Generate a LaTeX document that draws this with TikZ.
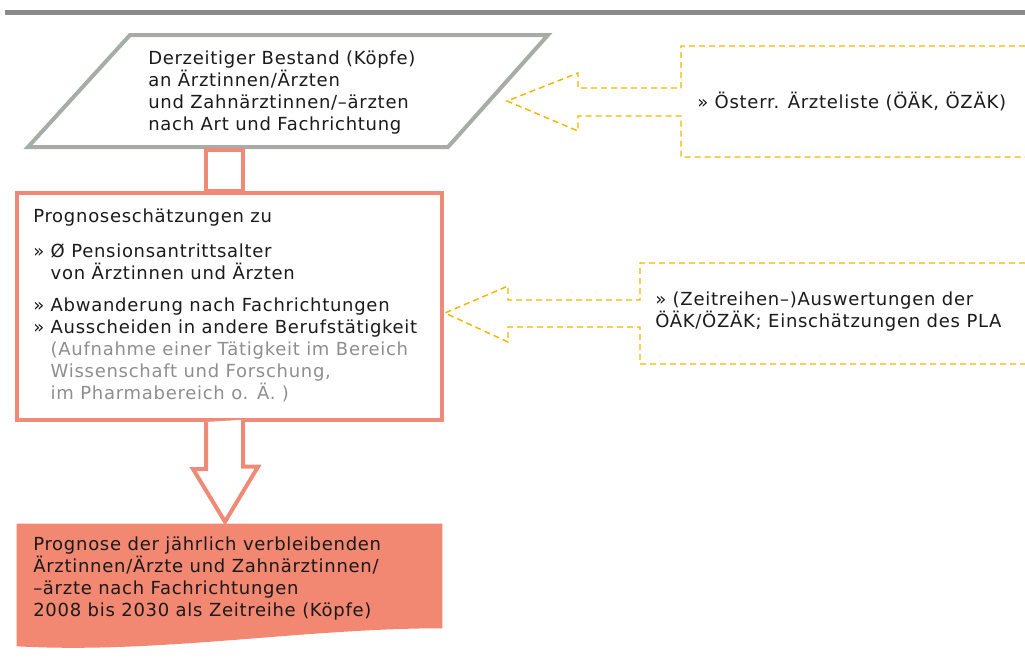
\documentclass[tikz,border=0pt]{standalone}
\usepackage{fontspec}
\setmainfont{DejaVu Sans}[LetterSpace=4]
\usetikzlibrary{positioning}
\definecolor{ruleGrey}{HTML}{8A8A8A}
\definecolor{stockGrey}{HTML}{A6ADA6}
\definecolor{progSalmon}{HTML}{F08A76}
\definecolor{resultSalmon}{HTML}{F28772}
\definecolor{sourceYellow}{HTML}{F2B600}
\definecolor{noteGrey}{HTML}{8E8E8E}
\definecolor{bodyText}{HTML}{1A1A1A}
\tikzset{
  header rule/.style={draw=ruleGrey,line width=3.75pt},
  stock line/.style={draw=stockGrey,line width=3pt,line join=miter},
  prog line/.style={draw=progSalmon,line width=3pt,line join=miter},
  prog box/.style={prog line,minimum width=318.75pt,minimum height=170.25pt,inner sep=0pt},
  result area/.style={minimum width=318.75pt,minimum height=78pt,inner sep=0pt},
  source line/.style={draw=sourceYellow,line width=1.1pt,dash pattern=on 4.5pt off 3pt},
  flow text/.style={anchor=north west,align=left,inner sep=0pt,text=bodyText,
    execute at begin node=\strut}
}

\begin{document}
\begin{tikzpicture}[x=0.75pt,y=-0.75pt,font=\fontsize{13.5}{16.5}\selectfont]
\useasboundingbox (0,0) rectangle (1025,665);

% header rule
\draw[header rule] (5,12) -- (1025,12);

% Input: current stock of physicians
\draw[stock line] (28,147) -- (130,35) -- (548,35) -- (448,147) -- cycle;
\node[flow text] (stock) at (148,50.1)
  {Derzeitiger Bestand (Köpfe)\\an Ärztinnen/Ärzten\\und Zahnärztinnen/–ärzten\\nach Art und Fachrichtung};

% Estimates box
\node[prog box] (prog) at (229.5,306.5) {};
\draw[prog line] ([shift={(-23.5,0)}]prog.north) rectangle ++(37,-41);
\node[flow text] (progtext) at (33,208.6)
  {Prognoseschätzungen zu\\[9.75pt]
   » Ø Pensionsantrittsalter\\
   \phantom{»\ }von Ärztinnen und Ärzten\\[7.5pt]
   » Abwanderung nach Fachrichtungen\\
   » Ausscheiden in andere Berufstätigkeit\\
   \phantom{»\ }\textcolor{noteGrey}{(Aufnahme einer Tätigkeit im Bereich}\\
   \phantom{»\ }\textcolor{noteGrey}{Wissenschaft und Forschung,}\\
   \phantom{»\ }\textcolor{noteGrey}{im Pharmabereich o. Ä. )}};

% Output: remaining physicians per year
\node[result area] (result) at (229.5,576) {};
\fill[resultSalmon] (result.north west) -- (result.north east) -- (result.south east)
  .. controls +(-140,0) and +(140,8) .. ([shift={(0,18)}]result.south west) -- cycle;
\node[flow text] (resulttext) at (33,536.1)
  {Prognose der jährlich verbleibenden\\Ärztinnen/Ärzte und Zahnärztinnen/\\–ärzte nach Fachrichtungen\\2008 bis 2030 als Zeitreihe (Köpfe)};

\draw[prog line,fill=white] ([shift={(-23.5,0)}]prog.south) -- ++(0,47) -- ++(-13,0)
  -- ([shift={(-4.5,-2)}]result.north) -- ++(33,-55) -- ++(-15,0) -- ++(0,-47);

% Sources (dashed block arrows)
\draw[source line] (1025,46) -- (681,46) -- (681,88) -- (578,88) -- (578,73) -- (507,101)
  -- (578,131) -- (578,116) -- (681,116) -- (681,157) -- (1025,157);
\node[flow text] (src1) at (697,91.6) {» Österr. Ärzteliste (ÖÄK, ÖZÄK)};

\draw[source line] (1025,263) -- (640,263) -- (640,300) -- (508,300) -- (508,286) -- (445,313)
  -- (508,342) -- (508,327) -- (640,327) -- (640,364) -- (1025,364);
\node[flow text] (src2) at (655,291.6)
  {» (Zeitreihen–)Auswertungen der\\ÖÄK/ÖZÄK; Einschätzungen des PLA};

\end{tikzpicture}
\end{document}
